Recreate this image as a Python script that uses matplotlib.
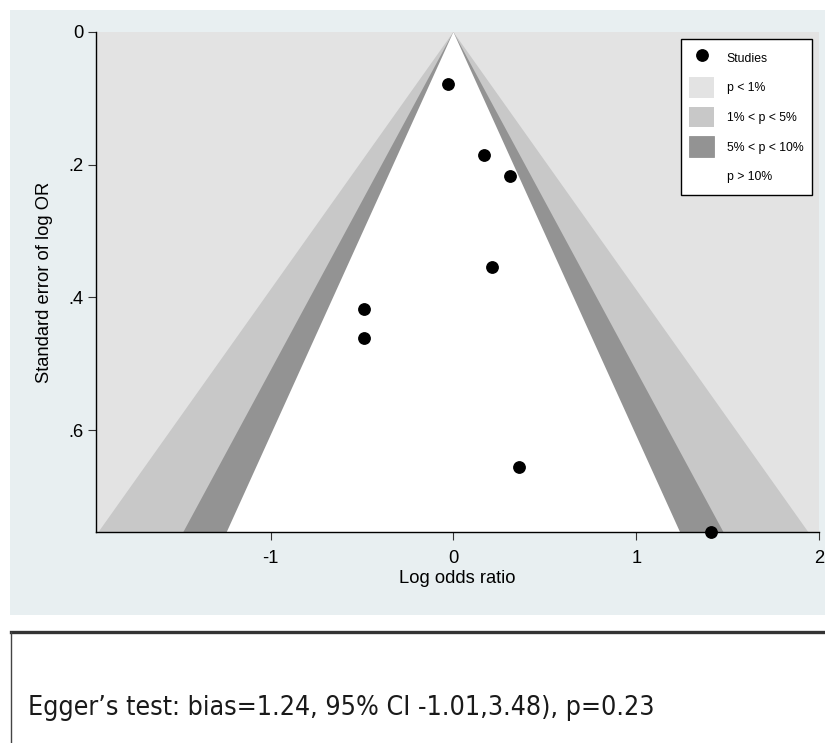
import numpy as np
import matplotlib
matplotlib.use("Agg")
import matplotlib.pyplot as plt
from matplotlib.patches import Patch
from matplotlib.lines import Line2D
from matplotlib import font_manager

# ---- data ----
log_or = [-0.03, 0.17, 0.31, 0.21, -0.49, -0.49, 0.36, 1.41]
se_log_or = [0.078, 0.185, 0.217, 0.354, 0.417, 0.461, 0.656, 0.7536]
contour_z = [2.576, 1.96, 1.645]          # 1%, 5%, 10%
contour_colors = ["#e3e3e3", "#c8c8c8", "#939393", "#ffffff"]
legend_labels = ["Studies", "p < 1%", "1% < p < 5%", "5% < p < 10%", "p > 10%"]
x_ticks = [-1, 0, 1, 2]
x_ticklabels = ["-1", "0", "1", "2"]
y_ticks = [0, 0.2, 0.4, 0.6]
y_ticklabels = ["0", ".2", ".4", ".6"]
egger_text = "Egger\u2019s test: bias=1.24, 95% CI -1.01,3.48), p=0.23"

W, H = 825, 743
fig = plt.figure(figsize=(W / 100, H / 100), dpi=100)
fig.patch.set_facecolor("white")

def fx(px):
    return px / W

def fy(py):
    return 1 - py / H

# panel background
bg = fig.add_axes([fx(10), fy(615), fx(815), 605 / H], zorder=-10)
bg.set_facecolor("#e8eff1")
bg.set_xticks([]); bg.set_yticks([])
for s in bg.spines.values():
    s.set_visible(False)

ax = fig.add_axes([fx(96), fy(532), fx(723), 500 / H], zorder=1)
se_max = max(se_log_or)
xmin, xmax = -1.955, 2.0
ax.set_xlim(xmin, xmax)
ax.set_ylim(se_max, 0)
ax.set_facecolor(contour_colors[0])

se_grid = np.array([0.0, se_max])
for z, col in zip(contour_z, contour_colors[1:]):
    ax.fill_betweenx(se_grid, -z * se_grid, z * se_grid, facecolor=col,
                     edgecolor="none", zorder=1)

ax.plot(log_or, se_log_or, "o", color="black", markersize=8.2, zorder=5,
        clip_on=False)

for s in ["top", "right"]:
    ax.spines[s].set_visible(False)
for s in ["left", "bottom"]:
    ax.spines[s].set_color("black")
    ax.spines[s].set_linewidth(1.0)
    ax.spines[s].set_zorder(6)

font = "Liberation Sans"
fs = 13.2
ax.set_xticks(x_ticks)
ax.set_xticklabels(x_ticklabels, fontsize=fs, family=font)
ax.set_yticks(y_ticks)
ax.set_yticklabels(y_ticklabels, fontsize=fs, family=font)
ax.tick_params(direction="out", length=6, width=0.8, color="#333333")
ax.tick_params(axis="x", pad=7)
ax.tick_params(axis="y", pad=3)
ax.set_xlabel("Log odds ratio", fontsize=fs, family=font, labelpad=2)
ax.set_ylabel("Standard error of log OR", fontsize=fs, family=font, labelpad=11)

handles = [
    Line2D([], [], marker="o", linestyle="none", color="black", markersize=8.2),
    Patch(facecolor=contour_colors[0], edgecolor="none"),
    Patch(facecolor=contour_colors[1], edgecolor="none"),
    Patch(facecolor=contour_colors[2], edgecolor="#888888", linewidth=0.5),
    Patch(facecolor=contour_colors[3], edgecolor="none"),
]
lfs = 8.8
leg = ax.legend(handles, legend_labels, loc="upper right",
                bbox_to_anchor=(fx(812), fy(39)), bbox_transform=fig.transFigure,
                prop={"family": font, "size": lfs}, frameon=True, fancybox=False,
                framealpha=1, edgecolor="black", handlelength=2.0,
                handleheight=2.2, labelspacing=0.75, handletextpad=1.05,
                borderpad=0.7, borderaxespad=0)
leg.get_frame().set_linewidth(1.0)
leg.set_zorder(10)

# Egger box
fig.add_artist(Line2D([fx(11), fx(825)], [fy(632), fy(632)], color="#333333",
                      linewidth=2.4, transform=fig.transFigure))
fig.add_artist(Line2D([fx(11), fx(11)], [fy(632), fy(743)], color="#444444",
                      linewidth=1.0, transform=fig.transFigure))

names = {f.name for f in font_manager.fontManager.ttflist}
if "Liberation Sans Narrow" in names:
    efont = {"family": ["Liberation Sans Narrow", "DejaVu Sans"]}
else:
    efont = {"family": ["DejaVu Sans"], "stretch": "condensed"}
t = fig.text(fx(28), fy(715), egger_text, fontsize=30, va="baseline",
             ha="left", color="#1a1a1a", **efont)
fig.canvas.draw()
w = t.get_window_extent(fig.canvas.get_renderer()).width
t.set_fontsize(30 * 625 / w)

fig.savefig("out.png", dpi=100, facecolor="white")
